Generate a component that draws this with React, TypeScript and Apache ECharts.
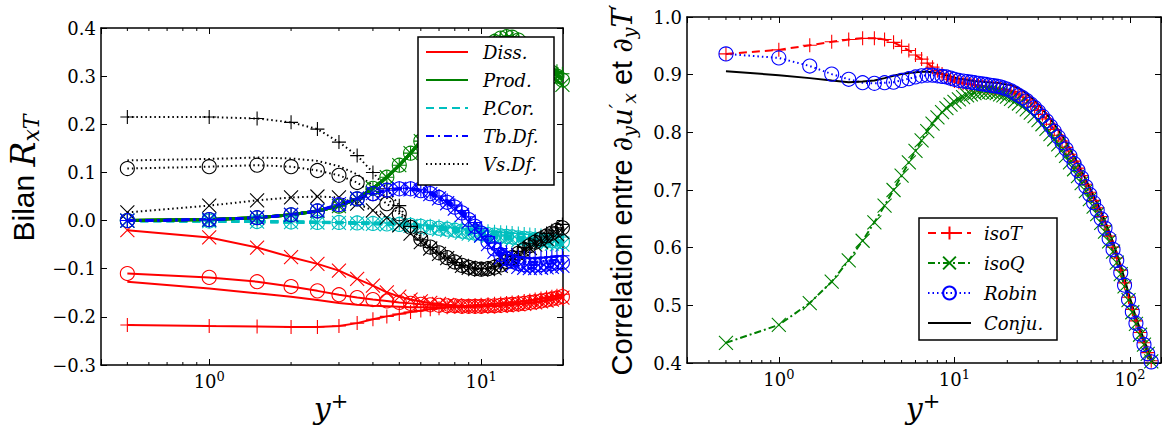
import React, { useEffect, useRef } from 'react';
import * as echarts from 'echarts';

// ---------- abscissae (y+) ----------
const yPlus = [0.5, 1, 1.5, 2, 2.5, 3, 3.5, 4, 4.5, 5, 5.5, 6, 6.5, 7, 7.5, 8, 8.5, 9, 9.5, 10, 10.6, 11.2, 11.8, 12.4, 13, 13.7, 14.4, 15.1, 15.8, 16.6, 17.4, 18.2, 19, 19.9];
const yPlusOuter = [21, 22.1, 23.3, 24.5, 25.8, 27.2, 28.6, 30.1, 31.7, 33.4, 35.2, 37, 39, 41, 43.2, 45.5, 48, 50.5, 53, 56, 59, 62, 65, 68.5, 72, 76, 80, 84, 88.5, 93, 98, 103, 108, 114, 120, 126, 132, 139, 146, 150];

// ---------- left panel : budget of R_xT ----------
const dissIsoT = [-0.217, -0.219, -0.22, -0.221, -0.221, -0.219, -0.213, -0.205, -0.199, -0.194, -0.19, -0.187, -0.184, -0.182, -0.18, -0.179, -0.178, -0.177, -0.176, -0.175, -0.174, -0.173, -0.172, -0.171, -0.17, -0.169, -0.167, -0.166, -0.164, -0.162, -0.16, -0.158, -0.156, -0.153];
const dissIsoQ = [-0.02, -0.035, -0.056, -0.076, -0.09, -0.104, -0.121, -0.135, -0.149, -0.158, -0.164, -0.168, -0.171, -0.173, -0.175, -0.176, -0.177, -0.178, -0.178, -0.178, -0.178, -0.177, -0.177, -0.176, -0.175, -0.174, -0.173, -0.171, -0.17, -0.168, -0.166, -0.164, -0.162, -0.16];
const dissRobin = [-0.11, -0.118, -0.127, -0.137, -0.146, -0.154, -0.16, -0.164, -0.167, -0.17, -0.172, -0.174, -0.175, -0.176, -0.177, -0.177, -0.178, -0.178, -0.178, -0.178, -0.177, -0.177, -0.176, -0.175, -0.174, -0.173, -0.172, -0.17, -0.169, -0.167, -0.165, -0.163, -0.161, -0.158];
const dissConju = [-0.127, -0.141, -0.151, -0.158, -0.165, -0.171, -0.175, -0.177, -0.178, -0.179, -0.18, -0.18, -0.18, -0.18, -0.18, -0.18, -0.18, -0.18, -0.179, -0.179, -0.178, -0.178, -0.177, -0.176, -0.175, -0.174, -0.173, -0.171, -0.17, -0.168, -0.166, -0.164, -0.162, -0.16];

const prodIsoT = [0, 0.002, 0.006, 0.012, 0.02, 0.03, 0.045, 0.067, 0.09, 0.115, 0.14, 0.165, 0.19, 0.215, 0.24, 0.265, 0.29, 0.31, 0.33, 0.345, 0.36, 0.372, 0.379, 0.382, 0.381, 0.376, 0.367, 0.356, 0.345, 0.335, 0.325, 0.317, 0.31, 0.305];
const prodIsoQ = [0, 0.002, 0.006, 0.012, 0.02, 0.03, 0.045, 0.067, 0.09, 0.115, 0.14, 0.165, 0.19, 0.215, 0.24, 0.265, 0.288, 0.308, 0.327, 0.342, 0.356, 0.367, 0.374, 0.377, 0.376, 0.368, 0.357, 0.345, 0.333, 0.321, 0.31, 0.3, 0.29, 0.282];
const prodRobin = [0, 0.002, 0.006, 0.012, 0.02, 0.03, 0.045, 0.067, 0.09, 0.115, 0.14, 0.165, 0.19, 0.215, 0.24, 0.265, 0.29, 0.31, 0.33, 0.345, 0.36, 0.372, 0.379, 0.382, 0.381, 0.375, 0.365, 0.353, 0.342, 0.331, 0.318, 0.308, 0.3, 0.292];
const prodConju = [0, 0.002, 0.006, 0.012, 0.02, 0.03, 0.045, 0.067, 0.09, 0.115, 0.14, 0.165, 0.19, 0.215, 0.24, 0.265, 0.29, 0.31, 0.33, 0.345, 0.36, 0.372, 0.379, 0.382, 0.381, 0.375, 0.365, 0.353, 0.342, 0.331, 0.321, 0.312, 0.304, 0.296];

const pcorIsoT = [0, -0.001, -0.002, -0.003, -0.003, -0.004, -0.004, -0.005, -0.005, -0.006, -0.007, -0.009, -0.011, -0.012, -0.014, -0.015, -0.017, -0.018, -0.019, -0.021, -0.022, -0.023, -0.024, -0.025, -0.026, -0.027, -0.028, -0.029, -0.03, -0.031, -0.032, -0.032, -0.033, -0.034];
const pcorIsoQ = [0, -0.001, -0.002, -0.003, -0.004, -0.005, -0.006, -0.007, -0.008, -0.009, -0.011, -0.013, -0.016, -0.018, -0.02, -0.023, -0.025, -0.027, -0.029, -0.031, -0.033, -0.035, -0.036, -0.038, -0.039, -0.041, -0.042, -0.043, -0.045, -0.046, -0.047, -0.048, -0.049, -0.05];
const pcorRobin = [0, -0.001, -0.002, -0.003, -0.004, -0.004, -0.005, -0.006, -0.007, -0.008, -0.01, -0.012, -0.014, -0.016, -0.018, -0.02, -0.022, -0.024, -0.026, -0.027, -0.029, -0.03, -0.032, -0.033, -0.034, -0.036, -0.037, -0.038, -0.039, -0.04, -0.041, -0.042, -0.043, -0.044];
const pcorConju = [0, -0.001, -0.002, -0.003, -0.004, -0.004, -0.005, -0.005, -0.006, -0.007, -0.009, -0.011, -0.013, -0.015, -0.017, -0.019, -0.021, -0.023, -0.024, -0.026, -0.027, -0.029, -0.03, -0.031, -0.032, -0.034, -0.035, -0.036, -0.037, -0.038, -0.039, -0.04, -0.041, -0.042];

const tbdfIsoT = [0, 0.002, 0.006, 0.012, 0.02, 0.033, 0.045, 0.056, 0.063, 0.067, 0.067, 0.064, 0.059, 0.051, 0.042, 0.032, 0.021, 0.008, -0.004, -0.017, -0.033, -0.047, -0.058, -0.066, -0.071, -0.075, -0.077, -0.078, -0.078, -0.077, -0.076, -0.075, -0.074, -0.073];
const tbdfIsoQ = [0, 0.002, 0.006, 0.012, 0.021, 0.034, 0.046, 0.057, 0.064, 0.066, 0.065, 0.061, 0.055, 0.046, 0.036, 0.025, 0.012, -0.002, -0.016, -0.031, -0.049, -0.065, -0.077, -0.086, -0.092, -0.096, -0.098, -0.099, -0.099, -0.098, -0.097, -0.096, -0.095, -0.094];
const tbdfRobin = [0, 0.002, 0.006, 0.012, 0.02, 0.033, 0.045, 0.056, 0.063, 0.066, 0.066, 0.062, 0.056, 0.048, 0.038, 0.028, 0.016, 0.002, -0.012, -0.026, -0.044, -0.059, -0.071, -0.079, -0.085, -0.089, -0.091, -0.092, -0.092, -0.091, -0.09, -0.089, -0.088, -0.087];
const tbdfConju = [0, 0.002, 0.006, 0.012, 0.02, 0.033, 0.045, 0.056, 0.063, 0.066, 0.066, 0.063, 0.057, 0.049, 0.04, 0.03, 0.018, 0.005, -0.008, -0.022, -0.04, -0.055, -0.066, -0.074, -0.079, -0.083, -0.085, -0.086, -0.086, -0.085, -0.084, -0.083, -0.082, -0.081];

const vsdfIsoT = [0.215, 0.215, 0.212, 0.204, 0.19, 0.163, 0.135, 0.1, 0.066, 0.031, -0.012, -0.04, -0.056, -0.068, -0.078, -0.087, -0.093, -0.097, -0.1, -0.1, -0.099, -0.096, -0.09, -0.082, -0.073, -0.064, -0.056, -0.048, -0.041, -0.034, -0.027, -0.021, -0.015, -0.008];
const vsdfIsoQ = [0.017, 0.031, 0.042, 0.048, 0.05, 0.048, 0.035, 0.021, 0.006, -0.01, -0.027, -0.045, -0.058, -0.069, -0.078, -0.087, -0.094, -0.098, -0.101, -0.102, -0.101, -0.099, -0.094, -0.087, -0.08, -0.072, -0.064, -0.057, -0.05, -0.044, -0.038, -0.033, -0.028, -0.024];
const vsdfRobin = [0.108, 0.112, 0.115, 0.112, 0.104, 0.094, 0.079, 0.056, 0.035, 0.014, -0.014, -0.038, -0.055, -0.067, -0.077, -0.086, -0.093, -0.097, -0.1, -0.101, -0.1, -0.097, -0.092, -0.085, -0.077, -0.068, -0.06, -0.052, -0.045, -0.038, -0.032, -0.026, -0.02, -0.015];
const vsdfConju = [0.125, 0.128, 0.131, 0.129, 0.124, 0.113, 0.096, 0.073, 0.047, 0.02, -0.008, -0.034, -0.053, -0.066, -0.077, -0.086, -0.093, -0.097, -0.1, -0.101, -0.1, -0.097, -0.092, -0.085, -0.077, -0.069, -0.061, -0.053, -0.046, -0.039, -0.033, -0.027, -0.022, -0.017];

// ---------- right panel : correlation ----------
const corIsoTNear = [0.936, 0.943, 0.951, 0.957, 0.961, 0.963, 0.963, 0.961, 0.956, 0.949, 0.942, 0.934, 0.927, 0.92, 0.913, 0.907, 0.901, 0.896, 0.892, 0.889, 0.887, 0.885, 0.884, 0.883, 0.882, 0.881, 0.88, 0.879, 0.878, 0.877, 0.876, 0.875, 0.874, 0.873];
const corIsoTOuter = [0.871, 0.868, 0.865, 0.861, 0.856, 0.851, 0.845, 0.838, 0.831, 0.823, 0.814, 0.805, 0.795, 0.785, 0.774, 0.762, 0.75, 0.738, 0.725, 0.71, 0.696, 0.682, 0.669, 0.654, 0.638, 0.62, 0.601, 0.582, 0.561, 0.539, 0.514, 0.493, 0.473, 0.453, 0.435, 0.418, 0.404, 0.39, 0.378, 0.372];
const corIsoQNear = [0.435, 0.466, 0.504, 0.541, 0.578, 0.612, 0.644, 0.673, 0.7, 0.725, 0.748, 0.768, 0.786, 0.802, 0.815, 0.826, 0.835, 0.842, 0.848, 0.853, 0.857, 0.861, 0.864, 0.866, 0.868, 0.869, 0.87, 0.87, 0.87, 0.869, 0.868, 0.866, 0.864, 0.862];
const corIsoQOuter = [0.858, 0.854, 0.85, 0.845, 0.84, 0.834, 0.828, 0.821, 0.814, 0.806, 0.797, 0.788, 0.779, 0.769, 0.759, 0.748, 0.736, 0.724, 0.712, 0.698, 0.684, 0.671, 0.658, 0.643, 0.628, 0.611, 0.593, 0.574, 0.554, 0.533, 0.509, 0.488, 0.468, 0.449, 0.432, 0.416, 0.403, 0.39, 0.378, 0.372];
const corRobinNear = [0.936, 0.929, 0.915, 0.901, 0.892, 0.886, 0.885, 0.886, 0.887, 0.89, 0.893, 0.896, 0.898, 0.899, 0.899, 0.898, 0.897, 0.896, 0.894, 0.892, 0.89, 0.889, 0.888, 0.887, 0.886, 0.885, 0.884, 0.883, 0.882, 0.881, 0.88, 0.879, 0.877, 0.875];
const corRobinOuter = [0.872, 0.868, 0.864, 0.86, 0.855, 0.849, 0.843, 0.836, 0.828, 0.82, 0.811, 0.802, 0.792, 0.782, 0.771, 0.759, 0.746, 0.734, 0.721, 0.706, 0.692, 0.678, 0.665, 0.65, 0.634, 0.616, 0.597, 0.578, 0.557, 0.535, 0.51, 0.489, 0.469, 0.45, 0.432, 0.416, 0.402, 0.389, 0.377, 0.371];
const corConjuNear = [0.906, 0.899, 0.894, 0.89, 0.887, 0.888, 0.89, 0.894, 0.898, 0.901, 0.903, 0.904, 0.905, 0.905, 0.904, 0.903, 0.901, 0.899, 0.897, 0.895, 0.893, 0.892, 0.891, 0.89, 0.889, 0.888, 0.888, 0.887, 0.887, 0.886, 0.886, 0.885, 0.884, 0.883];
const corConjuOuter = [0.882, 0.879, 0.876, 0.872, 0.867, 0.861, 0.855, 0.848, 0.84, 0.832, 0.823, 0.814, 0.804, 0.794, 0.783, 0.771, 0.758, 0.746, 0.733, 0.718, 0.704, 0.69, 0.677, 0.662, 0.646, 0.628, 0.609, 0.59, 0.568, 0.546, 0.521, 0.499, 0.479, 0.459, 0.44, 0.423, 0.407, 0.39, 0.373, 0.364];

// ---------- ticks / legends ----------
const minorTicksLeft = [0.5, 0.6, 0.7, 0.8, 0.9, 2, 3, 4, 5, 6, 7, 8, 9];
const minorTicksRight = [0.4, 0.5, 0.6, 0.7, 0.8, 0.9, 2, 3, 4, 5, 6, 7, 8, 9, 20, 30, 40, 50, 60, 70, 80, 90];
const legendLeft = ['Diss.', 'Prod.', 'P.Cor.', 'Tb.Df.', 'Vs.Df.'];
const legendRight = ['isoT', 'isoQ', 'Robin', 'Conju.'];

const SANS = 'Liberation Sans';
const SERIF = 'DejaVu Serif';
const RED = '#ff0000';
const GREEN = '#008000';
const CYAN = '#00bfbf';
const BLUE = '#0000ff';
const BLACK = '#000000';
const PLUS = 'path://M10,0L10,20M0,10L20,10';
const CROSS = 'path://M0,0L20,20M20,0L0,20';

const pair = (xs: number[], ys: number[]) => ys.map((v, i) => [xs[i], v]);
const xsR = [...yPlus, ...yPlusOuter];

function line(name: string, xs: number[], ys: number[], color: string, type: any, width: number,
  symbol: string | null, size: number, xi: number, yi: number) {
  return {
    type: 'line', name, data: pair(xs, ys), xAxisIndex: xi, yAxisIndex: yi,
    symbol: symbol || 'none', symbolSize: size, showSymbol: !!symbol,
    lineStyle: { color, width, type, cap: 'butt' },
    itemStyle: symbol
      ? { color: 'rgba(0,0,0,0)', borderColor: color, borderWidth: 1.1 }
      : { color, opacity: 0 },
    emphasis: { disabled: true }, silent: true, clip: true,
  };
}

function minorTickSeries(xs: number[], xi: number, yi: number, ymin: number, ymax: number) {
  return {
    type: 'custom', xAxisIndex: xi, yAxisIndex: yi, silent: true, clip: false, z: 5,
    data: xs.map((v) => [v, ymin]),
    encode: { x: 0, y: 1 },
    renderItem: (_p: any, api: any) => {
      const x = api.value(0);
      const b = api.coord([x, ymin]);
      const t = api.coord([x, ymax]);
      return {
        type: 'group',
        children: [
          { type: 'line', shape: { x1: b[0], y1: b[1], x2: b[0], y2: b[1] - 3 }, style: { stroke: '#000', lineWidth: 1 } },
          { type: 'line', shape: { x1: t[0], y1: t[1], x2: t[0], y2: t[1] + 3 }, style: { stroke: '#000', lineWidth: 1 } },
        ],
      };
    },
  };
}

const axisLine = { show: true, onZero: false, lineStyle: { color: '#000', width: 1.5 } };
const majorTick = { show: true, inside: true, length: 6, lineStyle: { color: '#000', width: 1 } };

const logLabel = {
  show: true, margin: 5, color: '#000',
  formatter: (v: number) => {
    const l = Math.log10(v);
    const e = Math.round(l);
    return Math.abs(l - e) < 1e-6 ? `{b|10}{e|${e}}` : '';
  },
  rich: {
    b: { fontFamily: SERIF, fontSize: 18, color: '#000' },
    e: { fontFamily: SERIF, fontSize: 13, color: '#000', padding: [0, 0, 9, 0] },
  },
};
const valLabel = {
  show: true, margin: 5, color: '#000', fontFamily: SERIF, fontSize: 18,
  formatter: (v: number) => (v < -1e-9 ? '\u2212' : '') + Math.abs(v).toFixed(1),
};

function logAxis(grid: number, min: number, max: number, pos: string, labels: boolean) {
  return {
    type: 'log', logBase: 10, gridIndex: grid, min, max, position: pos,
    axisLine, axisTick: majorTick, minorTick: { show: false }, splitLine: { show: false },
    axisLabel: labels ? logLabel : { show: false },
  };
}
function valAxis(grid: number, min: number, max: number, pos: string, labels: boolean) {
  return {
    type: 'value', gridIndex: grid, min, max, interval: 0.1, position: pos,
    axisLine, axisTick: majorTick, splitLine: { show: false },
    axisLabel: labels ? valLabel : { show: false },
  };
}

const titleRich = (size: number, msize: number) => ({
  s: { fontFamily: SANS, fontSize: size, color: '#000' },
  m: { fontFamily: SERIF, fontStyle: 'italic', fontSize: msize, color: '#000' },
  d: { fontFamily: SERIF, fontSize: msize, color: '#000' },
  sub: { fontFamily: SERIF, fontStyle: 'italic', fontSize: Math.round(msize * 0.68), color: '#000', padding: [Math.round(msize * 0.5), 0, 0, 0] },
  sup: { fontFamily: SERIF, fontStyle: 'italic', fontSize: Math.round(msize * 0.68), color: '#000', padding: [0, 0, Math.round(msize * 0.45), 0] },
  p: { fontFamily: SERIF, fontSize: Math.round(msize * 0.7), color: '#000', padding: [0, 0, Math.round(msize * 0.5), 0] },
});

export default function App() {
  const ref = useRef<HTMLDivElement>(null);
  useEffect(() => {
    if (!ref.current) return;
    const chart = echarts.init(ref.current, undefined, { renderer: 'svg' });

    const L = (n: string, ys: number[], c: string, t: any, w: number, s: string | null) => line(n, yPlus, ys, c, t, w, s, 14, 0, 0);
    const R = (n: string, ys: number[], c: string, t: any, w: number, s: string | null) => line(n, xsR, ys, c, t, w, s, 14, 2, 2);

    const dashed = [8, 5];
    const dashDot = [8, 4, 2, 4];
    const dotted = [1.5, 3];

    const series: any[] = [
      // Diss.
      L('Diss.', dissConju, RED, 'solid', 2, null),
      L('Diss. isoT', dissIsoT, RED, 'solid', 2, PLUS),
      L('Diss. isoQ', dissIsoQ, RED, 'solid', 2, CROSS),
      L('Diss. Robin', dissRobin, RED, 'solid', 2, 'circle'),
      // P.Cor.
      L('P.Cor.', pcorConju, CYAN, dashed, 3, null),
      L('P.Cor. isoT', pcorIsoT, CYAN, dashed, 3, PLUS),
      L('P.Cor. isoQ', pcorIsoQ, CYAN, dashed, 3, CROSS),
      L('P.Cor. Robin', pcorRobin, CYAN, dashed, 3, 'circle'),
      // Vs.Df.
      L('Vs.Df.', vsdfConju, BLACK, dotted, 2, null),
      L('Vs.Df. isoT', vsdfIsoT, BLACK, dotted, 2, PLUS),
      L('Vs.Df. isoQ', vsdfIsoQ, BLACK, dotted, 2, CROSS),
      L('Vs.Df. Robin', vsdfRobin, BLACK, dotted, 2, 'circle'),
      // Prod.
      L('Prod.', prodConju, GREEN, 'solid', 3, null),
      L('Prod. isoT', prodIsoT, GREEN, 'solid', 3, PLUS),
      L('Prod. isoQ', prodIsoQ, GREEN, 'solid', 3, CROSS),
      L('Prod. Robin', prodRobin, GREEN, 'solid', 3, 'circle'),
      // Tb.Df.
      L('Tb.Df.', tbdfConju, BLUE, dashDot, 2.5, null),
      L('Tb.Df. isoT', tbdfIsoT, BLUE, dashDot, 2.5, PLUS),
      L('Tb.Df. isoQ', tbdfIsoQ, BLUE, dashDot, 2.5, CROSS),
      L('Tb.Df. Robin', tbdfRobin, BLUE, dashDot, 2.5, 'circle'),
      // right panel
      R('isoT', [...corIsoTNear, ...corIsoTOuter], RED, [8, 5], 2, PLUS),
      R('isoQ', [...corIsoQNear, ...corIsoQOuter], GREEN, [7, 3, 2, 3], 2, CROSS),
      R('Robin', [...corRobinNear, ...corRobinOuter], BLUE, [1.5, 3], 2, 'circle'),
      R('Conju.', [...corConjuNear, ...corConjuOuter], BLACK, 'solid', 2, null),
      minorTickSeries(minorTicksLeft, 0, 0, -0.3, 0.4),
      minorTickSeries(minorTicksRight, 2, 2, 0.4, 1.0),
    ];

    const legendText = (w: number, pl: number) => ({
      fontFamily: SERIF, fontStyle: 'italic', fontSize: 18, color: '#000',
      lineHeight: 20, width: w, padding: [0, 0, 0, pl],
    });

    const option: any = {
      animation: false,
      grid: [
        { left: 101, top: 28, width: 462, height: 337, containLabel: false, outerBoundsMode: 'none' },
        { left: 687, top: 17, width: 474, height: 346, containLabel: false, outerBoundsMode: 'none' },
      ],
      xAxis: [
        logAxis(0, 0.4, 20, 'bottom', true),
        logAxis(0, 0.4, 20, 'top', false),
        logAxis(1, 0.3, 150, 'bottom', true),
        logAxis(1, 0.3, 150, 'top', false),
      ],
      yAxis: [
        valAxis(0, -0.3, 0.4, 'left', true),
        valAxis(0, -0.3, 0.4, 'right', false),
        valAxis(1, 0.4, 1.0, 'left', true),
        valAxis(1, 0.4, 1.0, 'right', false),
      ],
      legend: [
        {
          data: legendLeft.map((n) => ({ name: n, itemStyle: { opacity: 0 } })),
          orient: 'vertical', left: 418, top: 37,
          itemWidth: 42, itemHeight: 14, itemGap: 8,
          padding: [5, 8, 11, 7],
          backgroundColor: '#fff', borderColor: '#000', borderWidth: 1.5, borderRadius: 0,
          textStyle: legendText(63, 10), selectedMode: false, z: 10,
        },
        {
          data: legendRight.map((n) => (n === 'Conju.' ? { name: n, itemStyle: { opacity: 0 } } : { name: n })),
          orient: 'vertical', left: 919, top: 218,
          itemWidth: 43, itemHeight: 16, itemGap: 10,
          padding: [5, 8, 7, 8],
          backgroundColor: '#fff', borderColor: '#000', borderWidth: 1.5, borderRadius: 0,
          textStyle: legendText(65, 8), selectedMode: false, z: 10,
        },
      ],
      graphic: [
        {
          type: 'text', x: 23, y: 178, rotation: Math.PI / 2,
          style: { text: '{s|Bilan }{m|R}{sub|xT}', rich: titleRich(30, 33), align: 'center', verticalAlign: 'middle' },
        },
        {
          type: 'text', x: 622, y: 190, rotation: Math.PI / 2,
          style: {
            text: '{s|Correlation entre }{d|\u2202}{sub|y}{m|u}{sup|\u2032}{sub|x}{s| et }{d|\u2202}{sub|y}{m|T}{sup|\u2032}',
            rich: titleRich(29, 28), align: 'center', verticalAlign: 'middle',
          },
        },
        {
          type: 'text', x: 331, y: 408,
          style: { text: '{m|y}{p|+}', rich: titleRich(32, 30), align: 'center', verticalAlign: 'middle' },
        },
        {
          type: 'text', x: 923, y: 408,
          style: { text: '{m|y}{p|+}', rich: titleRich(32, 30), align: 'center', verticalAlign: 'middle' },
        },
      ],
      series,
    };
    chart.setOption(option);
    return () => chart.dispose();
  }, []);
  return <div ref={ref} style={{ position: 'absolute', left: 0, top: 0, width: 1163, height: 430, background: '#fff' }} />;
}
